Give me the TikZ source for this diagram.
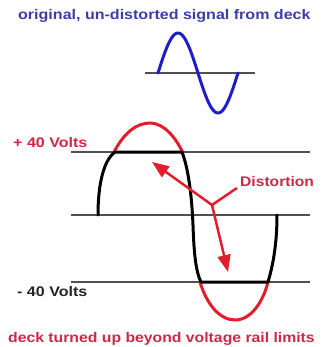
\documentclass[tikz,border=0pt]{standalone}
\usepackage{fontspec}
\setmainfont{Liberation Sans}
\usetikzlibrary{arrows.meta}

\definecolor{sigblue}{RGB}{30,30,200}
\definecolor{capblue}{RGB}{60,60,170}
\definecolor{sigred}{RGB}{225,30,45}
\definecolor{capred}{RGB}{205,40,70}
\definecolor{railgray}{RGB}{80,80,80}

\newcommand{\widetext}[1]{\scalebox{1.15}[1]{#1}}

\begin{document}
\begin{tikzpicture}[
  x=1bp, y=-1bp,
  caption/.style={font=\bfseries\fontsize{14}{15}\selectfont, inner sep=0pt, anchor=west},
  volts/.style={font=\bfseries\fontsize{14}{15}\selectfont, inner sep=0pt, anchor=west},
  rail/.style={draw=railgray, line width=1.8bp},
  wave/.style={line width=3bp, line cap=round, line join=round},
  pointer/.style={-{Triangle[length=17bp,width=13bp]}, draw=sigred, fill=sigred, line width=2.5bp}
]
\useasboundingbox (0,0) rectangle (322,347);

% original signal
\node[caption, text=capblue] (top) at (18,16) {\widetext{original, un-distorted signal from deck}};
\draw[rail] (145,73) -- (255,73);
\draw[wave, draw=sigblue] plot[domain=0:360, samples=72] ({158+\x/360*80},{73-40*sin(\x)});

% voltage rails
\draw[rail] (71,152) -- (310,152);
\draw[rail] (71,215) -- (310,215);
\draw[rail] (71,282) -- (310,282);
\node[volts, text=capred] (plus) at (13,143) {\widetext{+ 40 Volts}};
\node[volts, text=black!85] (minus) at (17,292) {\widetext{- 40 Volts}};

% part of the signal cut off by the rails
\draw[wave, draw=sigred] (113,154) .. controls (124,132) and (137,123) .. (150,123)
  .. controls (164,123) and (176,138) .. (183,153);
\draw[wave, draw=sigred] (200,282) .. controls (207,305) and (220,320) .. (235,320)
  .. controls (251,320) and (263,302) .. (268,282);

% clipped output
\draw[wave, draw=black] (98,215) .. controls (98,183) and (104,160) .. (115,152)
  -- (182,152) .. controls (189,170) and (192,200) .. (193,225)
  .. controls (194,255) and (196,272) .. (201,282)
  -- (268,282) .. controls (274,262) and (277,240) .. (277,215);

% distortion pointers
\node[caption, text=capred] (dist) at (240,182) {\scalebox{1.12}[1]{Distortion}};
\coordinate (branch) at (212,205);
\coordinate (upper) at (152,162);
\coordinate (lower) at (228,272);
\draw[draw=sigred, line width=2.5bp] ([shift={(-3bp,-6bp)}]dist.west) -- (branch);
\draw[pointer] (branch) -- (upper);
\draw[pointer] (branch) -- (lower);

\node[caption, text=capred] (bottom) at (8,339) {\scalebox{1.13}[1]{deck turned up beyond voltage rail limits}};
\end{tikzpicture}
\end{document}
